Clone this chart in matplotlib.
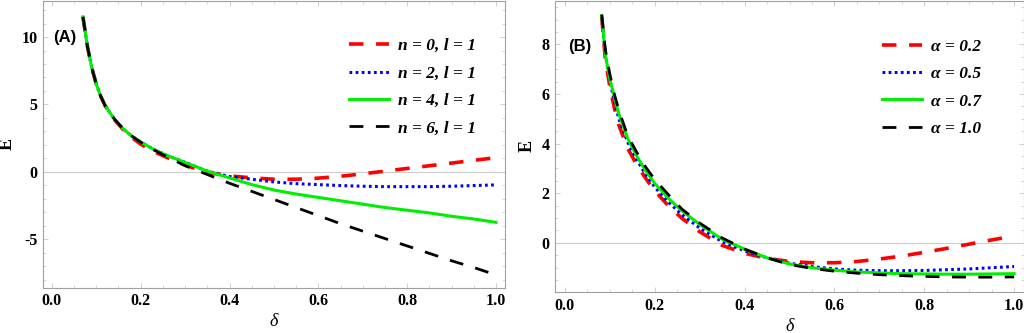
import matplotlib.pyplot as plt
from matplotlib.ticker import MultipleLocator

# panel (A): energy vs delta for several n (l = 1)
delta_a = [0.07, 0.08, 0.09, 0.10, 0.11, 0.12, 0.14, 0.16, 0.18, 0.20, 0.23, 0.26, 0.30,
           0.35, 0.40, 0.45, 0.50, 0.55, 0.60, 0.65, 0.70, 0.75, 0.80, 0.85, 0.90, 0.95, 1.00]
e_n0 = [11.5, 9.3, 7.7, 6.5, 5.6, 4.9, 3.9, 3.15, 2.55, 2.05, 1.5, 1.05, 0.5,
        -0.05, -0.3, -0.45, -0.55, -0.55, -0.47, -0.33, -0.15, 0.05, 0.25, 0.45, 0.65, 0.85, 1.05]
e_n2 = [11.5, 9.3, 7.7, 6.5, 5.6, 4.9, 3.95, 3.2, 2.65, 2.2, 1.65, 1.2, 0.7,
        0.05, -0.35, -0.55, -0.75, -0.88, -0.95, -1.02, -1.07, -1.1, -1.1, -1.1, -1.07, -1.02, -0.97]
e_n4 = [11.5, 9.3, 7.7, 6.5, 5.6, 4.9, 3.95, 3.2, 2.65, 2.2, 1.65, 1.2, 0.7,
        0.05, -0.45, -0.95, -1.35, -1.65, -1.9, -2.15, -2.4, -2.65, -2.85, -3.05, -3.3, -3.5, -3.75]
e_n6 = [11.5, 9.3, 7.7, 6.5, 5.6, 4.9, 3.95, 3.2, 2.65, 2.2, 1.62, 1.1, 0.45,
        -0.2, -0.85, -1.45, -2.05, -2.65, -3.25, -3.85, -4.4, -4.95, -5.5, -6.05, -6.6, -7.1, -7.65]
labels_a = ["n = 0, l = 1", "n = 2, l = 1", "n = 4, l = 1", "n = 6, l = 1"]

# panel (B): energy vs delta for several alpha
delta_b = [0.082, 0.09, 0.10, 0.11, 0.12, 0.14, 0.16, 0.18, 0.20, 0.23, 0.26, 0.30, 0.35,
           0.40, 0.45, 0.50, 0.55, 0.60, 0.65, 0.70, 0.75, 0.80, 0.85, 0.90, 0.95, 1.00]
e_a02 = [9.1, 7.4, 6.3, 5.45, 4.75, 3.8, 3.15, 2.6, 2.1, 1.5, 1.0, 0.45, -0.1,
         -0.42, -0.62, -0.75, -0.8, -0.8, -0.75, -0.65, -0.53, -0.38, -0.22, -0.05, 0.12, 0.28]
e_a05 = [9.1, 7.6, 6.55, 5.7, 5.0, 4.05, 3.35, 2.75, 2.25, 1.65, 1.15, 0.6, 0.05,
         -0.32, -0.6, -0.82, -0.95, -1.05, -1.1, -1.12, -1.12, -1.11, -1.08, -1.05, -1.0, -0.95]
e_a07 = [9.15, 7.6, 6.6, 5.9, 5.2, 4.2, 3.5, 2.9, 2.4, 1.8, 1.3, 0.75, 0.15,
         -0.25, -0.6, -0.85, -1.0, -1.1, -1.17, -1.21, -1.24, -1.25, -1.26, -1.26, -1.25, -1.24]
e_a10 = [9.2, 7.8, 6.8, 6.0, 5.35, 4.3, 3.65, 3.05, 2.55, 1.95, 1.37, 0.8, 0.2,
         -0.25, -0.6, -0.87, -1.03, -1.14, -1.22, -1.28, -1.32, -1.35, -1.37, -1.38, -1.38, -1.37]
labels_b = ["\u03b1 = 0.2", "\u03b1 = 0.5", "\u03b1 = 0.7", "\u03b1 = 1.0"]

serif = "Liberation Serif"
frame = "#a0a0a0"

styles = [
    dict(color="#ff0000", lw=2.6, dashes=(4, 3.5)),
    dict(color="#0000ff", lw=2.2, dashes=(0.9, 1.1)),
    dict(color="#00ee00", lw=2.2, linestyle="-"),
    dict(color="#000000", lw=2.0, dashes=(5, 4.5)),
]

fig = plt.figure(figsize=(10.24, 3.33), dpi=100)
ax_a = fig.add_axes([0.042, 0.136, 0.451, 0.862])
ax_b = fig.add_axes([0.542, 0.123, 0.458, 0.875])


def style_axes(ax, ymajor, yminor):
    for s in ax.spines.values():
        s.set_color(frame)
        s.set_linewidth(0.8)
    ax.axhline(0, color="#cccccc", lw=0.8, zorder=0)
    ax.xaxis.set_major_locator(MultipleLocator(0.2))
    ax.xaxis.set_minor_locator(MultipleLocator(0.05))
    ax.yaxis.set_major_locator(MultipleLocator(ymajor))
    ax.yaxis.set_minor_locator(MultipleLocator(yminor))
    ax.yaxis.set_major_formatter(lambda v, p: f"{v:g}")
    ax.xaxis.set_major_formatter(lambda v, p: f"{v:.1f}")
    ax.tick_params(which="both", direction="in", top=True, right=True, color="#c8c8c8")
    ax.tick_params(which="major", length=3.5, width=0.6, pad=4)
    ax.tick_params(which="minor", length=2, width=0.5)
    for lab in ax.get_xticklabels() + ax.get_yticklabels():
        lab.set_fontfamily(serif)
        lab.set_fontweight("bold")
        lab.set_fontsize(11.5)
    ax.set_xlabel("\u03b4", fontfamily=serif, fontstyle="italic", fontsize=13, labelpad=3)
    ax.set_ylabel("E", fontfamily=serif, fontweight="bold", fontsize=13, labelpad=4)


for ys, st, lab in zip([e_n0, e_n2, e_n4, e_n6], styles, labels_a):
    ax_a.plot(delta_a, ys, label=lab, **st)
ax_a.set_xlim(-0.02, 1.02)
ax_a.set_ylim(-8.6, 12.7)
style_axes(ax_a, 5, 1)
ax_a.text(0.003, 10.0, "(A)", fontfamily="Liberation Sans", fontweight="bold",
          fontsize=12, va="center", ha="left")

for ys, st, lab in zip([e_a02, e_a05, e_a07, e_a10], styles, labels_b):
    ax_b.plot(delta_b, ys, label=lab, **st)
ax_b.set_xlim(-0.022, 1.022)
ax_b.set_ylim(-1.98, 9.76)
style_axes(ax_b, 2, 0.5)
ax_b.text(0.008, 7.9, "(B)", fontfamily="Liberation Sans", fontweight="bold",
          fontsize=12, va="center", ha="left")

legend_font = dict(family=serif, style="italic", weight="bold", size=12.5)
for ax, anchor in [(ax_a, (0.644, 0.90)), (ax_b, (0.679, 0.90))]:
    ax.legend(loc="upper left", bbox_to_anchor=anchor, frameon=False, prop=legend_font,
              handlelength=2.3, handletextpad=0.5, labelspacing=0.65, borderpad=0)

fig.savefig("out.png", dpi=100)
